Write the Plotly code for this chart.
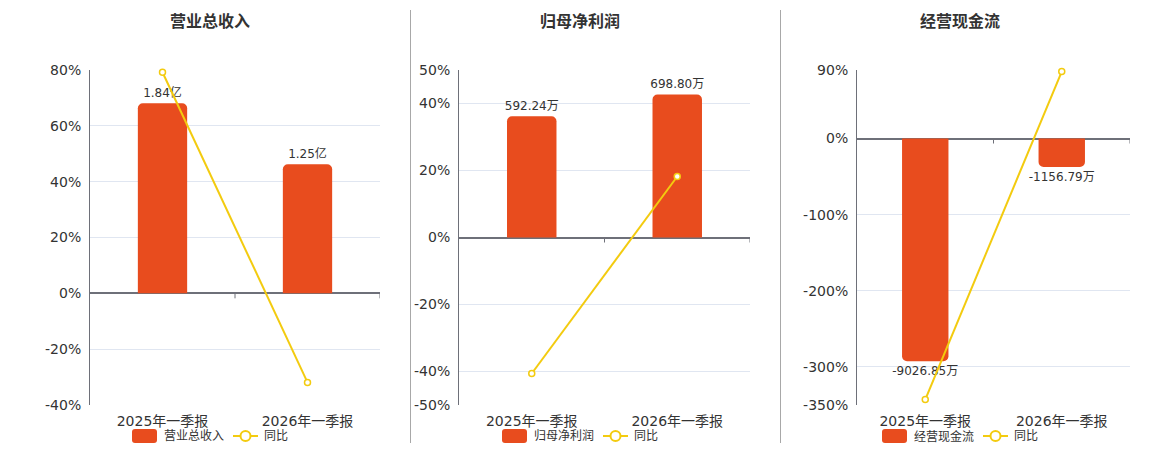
import plotly.graph_objects as go

# ---------------- data ----------------
categories = ["2025年一季报", "2026年一季报"]
titles = ["营业总收入", "归母净利润", "经营现金流"]
bar_names = ["营业总收入", "归母净利润", "经营现金流"]
line_name = "同比"

revenue = [1.84e8, 1.25e8]
net_profit = [592.24e4, 698.80e4]
op_cashflow = [-9026.85e4, -1156.79e4]

revenue_labels = ["1.84亿", "1.25亿"]
net_profit_labels = ["592.24万", "698.80万"]
op_cashflow_labels = ["-9026.85万", "-1156.79万"]

revenue_yoy = [79.2, -31.9]
net_profit_yoy = [-40.6, 18.2]
op_cashflow_yoy = [-342.8, 88.0]

revenue_ticks = [-40, -20, 0, 20, 40, 60, 80]
net_profit_ticks = [-50, -40, -20, 0, 20, 40, 50]
op_cashflow_ticks = [-350, -300, -200, -100, 0, 90]

bar_values = [revenue, net_profit, op_cashflow]
bar_labels = [revenue_labels, net_profit_labels, op_cashflow_labels]
yoy_values = [revenue_yoy, net_profit_yoy, op_cashflow_yoy]
yoy_ticks = [revenue_ticks, net_profit_ticks, op_cashflow_ticks]

# ---------------- layout constants ----------------
W, H = 1160, 450
PAGE_OFFSET = 8  # default body margin of the html page
FONT = "DejaVu Sans, Noto Sans CJK SC, sans-serif"
BAR_COLOR = "#E84C1E"
LINE_COLOR = "#F3CB0F"
AXIS_COLOR = "#6E7079"
GRID_COLOR = "#E0E6F1"
TEXT_COLOR = "#333333"

x_px = [(90, 380), (459, 750), (857, 1130)]
y_top, y_bot = 70, 405
panel_centers = [210, 580, 960]
# bar-axis units per 1% of the yoy axis (aligns the zero of both axes)
bar_scale = [2.7035e6, 1.6365e5, 3.086e5]

# rounded legend swatch (pixels relative to legend centre)
SWATCH_PATH = ("M -75,-7 L -56,-7 Q -53,-7 -53,-4 L -53,4 Q -53,7 -56,7 "
               "L -75,7 Q -78,7 -78,4 L -78,-4 Q -78,-7 -75,-7 Z")


def px_x(v):
    return (v - PAGE_OFFSET) / W


def px_y(v):
    return 1 - (v - PAGE_OFFSET) / H


fig = go.Figure()
layout = dict(
    template="none",
    width=W, height=H, autosize=False,
    margin=dict(l=0, r=0, t=0, b=0, pad=0),
    paper_bgcolor="white", plot_bgcolor="white",
    font=dict(family=FONT, color=TEXT_COLOR),
    showlegend=False,
    bargap=0.66,
)

shapes = []
annotations = []

for i in range(3):
    n = i + 1
    xa = "x" if n == 1 else f"x{n}"
    xa_key = "xaxis" if n == 1 else f"xaxis{n}"
    yb = "y" if n == 1 else f"y{n}"              # bar (hidden) axis
    yb_key = "yaxis" if n == 1 else f"yaxis{n}"
    yl = f"y{n + 3}"                              # yoy (visible) axis
    yl_key = f"yaxis{n + 3}"

    ticks = yoy_ticks[i]
    r0, r1 = min(ticks), max(ticks)

    fig.add_trace(go.Bar(
        x=categories, y=bar_values[i], name=bar_names[i],
        xaxis=xa, yaxis=yb,
        marker=dict(color=BAR_COLOR, cornerradius=5, line=dict(width=0)),
        width=0.34,
        text=bar_labels[i], textposition="outside",
        textfont=dict(size=12, color=TEXT_COLOR, family=FONT),
        constraintext="none", cliponaxis=False,
        hoverinfo="skip",
    ))
    fig.add_trace(go.Scatter(
        x=categories, y=yoy_values[i], name=line_name,
        xaxis=xa, yaxis=yl, mode="lines+markers",
        line=dict(color=LINE_COLOR, width=2),
        marker=dict(symbol="circle", size=6, color="white",
                    line=dict(color=LINE_COLOR, width=1.5)),
        cliponaxis=False, hoverinfo="skip",
    ))

    layout[xa_key] = dict(
        domain=[px_x(x_px[i][0]), px_x(x_px[i][1])],
        anchor=yb, type="category", range=[-0.5, 1.5],
        showgrid=False, showline=False, zeroline=False, ticks="",
        ticklabelstandoff=6,
        tickfont=dict(size=14, color=TEXT_COLOR, family=FONT),
        automargin=False, fixedrange=True,
    )
    layout[yb_key] = dict(
        domain=[px_y(y_bot), px_y(y_top)], anchor=xa,
        range=[r0 * bar_scale[i], r1 * bar_scale[i]],
        showgrid=False, showline=False, zeroline=False,
        showticklabels=False, ticks="", automargin=False, fixedrange=True,
    )
    layout[yl_key] = dict(
        overlaying=yb, anchor=xa, side="left",
        range=[r0, r1], tickvals=ticks,
        ticktext=[f"{t}%" for t in ticks],
        showgrid=True, gridcolor=GRID_COLOR, gridwidth=1,
        showline=True, linecolor=AXIS_COLOR, linewidth=1,
        zeroline=True, zerolinecolor=AXIS_COLOR, zerolinewidth=2,
        ticks="", ticklabelstandoff=5,
        tickfont=dict(size=14, color=TEXT_COLOR, family=FONT),
        automargin=False, fixedrange=True,
    )

    # small category-boundary ticks on the zero line
    for xb in (0.5, 1.5):
        shapes.append(dict(
            type="line", xref=xa, yref=yb, x0=xb, x1=xb,
            ysizemode="pixel", yanchor=0, y0=0, y1=-5,
            line=dict(color=AXIS_COLOR, width=1),
        ))

    cx = panel_centers[i]
    # title
    annotations.append(dict(
        text=f"<b>{titles[i]}</b>", xref="paper", yref="paper",
        x=px_x(cx), y=px_y(22), xanchor="center", yanchor="middle",
        showarrow=False, font=dict(size=16, color=TEXT_COLOR, family=FONT),
    ))

    # legend: bar swatch
    cy = 436
    shapes.append(dict(
        type="path", xref="paper", yref="paper",
        xsizemode="pixel", ysizemode="pixel",
        xanchor=px_x(cx), yanchor=px_y(cy),
        path=SWATCH_PATH,
        fillcolor=BAR_COLOR, line=dict(width=0),
    ))
    annotations.append(dict(
        text=bar_names[i], xref="paper", yref="paper",
        x=px_x(cx - 48), y=px_y(cy), xanchor="left", yanchor="middle",
        showarrow=False, font=dict(size=12, color=TEXT_COLOR, family=FONT),
    ))
    # legend: line swatch
    shapes.append(dict(
        type="line", xref="paper", yref="paper",
        xsizemode="pixel", ysizemode="pixel",
        xanchor=px_x(cx), yanchor=px_y(cy),
        x0=23, x1=48, y0=0, y1=0,
        line=dict(color=LINE_COLOR, width=2),
    ))
    shapes.append(dict(
        type="circle", xref="paper", yref="paper",
        xsizemode="pixel", ysizemode="pixel",
        xanchor=px_x(cx), yanchor=px_y(cy),
        x0=30.5, x1=40.5, y0=-5, y1=5,
        fillcolor="white", line=dict(color=LINE_COLOR, width=2),
    ))
    annotations.append(dict(
        text=line_name, xref="paper", yref="paper",
        x=px_x(cx + 52), y=px_y(cy), xanchor="left", yanchor="middle",
        showarrow=False, font=dict(size=12, color=TEXT_COLOR, family=FONT),
    ))

# panel separators
for sx in (410.5, 780.5):
    shapes.append(dict(
        type="line", xref="paper", yref="paper",
        x0=px_x(sx), x1=px_x(sx), y0=px_y(10), y1=px_y(443),
        line=dict(color="#A8A8A8", width=1),
    ))

layout["shapes"] = shapes
layout["annotations"] = annotations
fig.update_layout(**layout)

fig.write_html("out.html", config={"displayModeBar": False})
